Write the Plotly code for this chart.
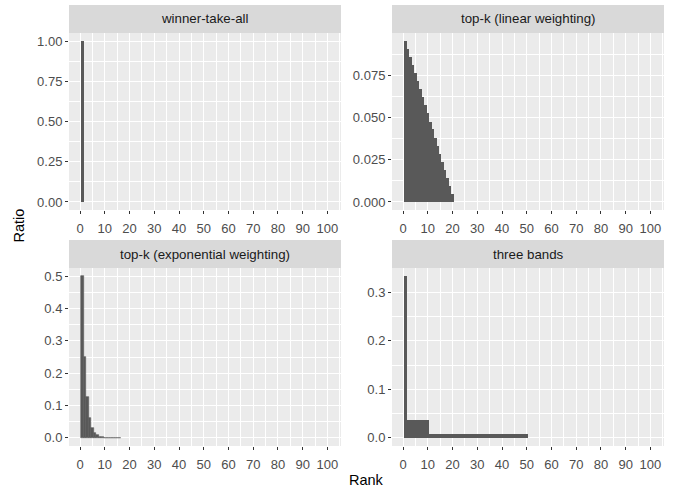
import plotly.graph_objects as go

W, H = 688, 491

# ---- data -------------------------------------------------------------
panels = ["winner-take-all", "top-k (linear weighting)",
          "top-k (exponential weighting)", "three bands"]

rank_winner = [1]
ratio_winner = [1.0]

rank_linear = list(range(1, 21))
ratio_linear = [0.0952, 0.0905, 0.0857, 0.0810, 0.0762, 0.0714, 0.0667,
                0.0619, 0.0571, 0.0524, 0.0476, 0.0429, 0.0381, 0.0333,
                0.0286, 0.0238, 0.0190, 0.0143, 0.0095, 0.0048]

rank_exp = list(range(1, 17))
ratio_exp = [0.5, 0.25, 0.125, 0.0625, 0.03125, 0.015625, 0.0078, 0.0039,
             0.00195, 0.00098, 0.00049, 0.00024, 0.00012, 0.00006,
             0.00003, 0.000015]

rank_bands = list(range(1, 51))
ratio_bands = [0.3333] + [0.0370] * 9 + [0.00833] * 40

x_ticks = [0, 10, 20, 30, 40, 50, 60, 70, 80, 90, 100]
x_minor = [5, 15, 25, 35, 45, 55, 65, 75, 85, 95, 105]

y_ticks = [
    [0, 0.25, 0.5, 0.75, 1.0],
    [0, 0.025, 0.05, 0.075],
    [0, 0.1, 0.2, 0.3, 0.4, 0.5],
    [0, 0.1, 0.2, 0.3],
]
y_minor = [
    [0.125, 0.375, 0.625, 0.875],
    [0.0125, 0.0375, 0.0625, 0.0875],
    [0.05, 0.15, 0.25, 0.35, 0.45],
    [0.05, 0.15, 0.25, 0.35],
]
y_fmt = [".2f", ".3f", ".1f", ".1f"]
y_range = [[-0.05, 1.05], [-0.00476, 0.1], [-0.025, 0.525], [-0.01667, 0.35]]

series = [(rank_winner, ratio_winner), (rank_linear, ratio_linear),
          (rank_exp, ratio_exp), (rank_bands, ratio_bands)]

# ---- layout geometry (pixels) ----------------------------------------
cols_px = [(69, 341), (392, 664)]
rows_px = [(33, 210), (268, 446)]
strip_h = 28

def px_x(p):
    return p / W

def px_y(p):
    return 1 - p / H

BAR = "#595959"
PANEL_BG = "#EBEBEB"
STRIP_BG = "#D9D9D9"
FONT = "Liberation Sans, Arial, Helvetica, sans-serif"
TICK_SIZE = 13
STRIP_SIZE = 13.3

fig = go.Figure()
layout = dict(
    width=W, height=H,
    margin=dict(l=0, r=0, t=0, b=0),
    paper_bgcolor="white",
    plot_bgcolor=PANEL_BG,
    showlegend=False,
    bargap=0,
    font=dict(family=FONT, size=TICK_SIZE, color="#4D4D4D"),
    shapes=[], annotations=[],
)

for i, (name, (xs, ys)) in enumerate(zip(panels, series)):
    r, c = divmod(i, 2)
    n = i + 1
    xa = "xaxis" if n == 1 else f"xaxis{n}"
    ya = "yaxis" if n == 1 else f"yaxis{n}"
    xref = "x" if n == 1 else f"x{n}"
    yref = "y" if n == 1 else f"y{n}"
    x0, x1 = cols_px[c]
    y0, y1 = rows_px[r]

    fig.add_trace(go.Bar(
        x=xs, y=ys, width=1, xaxis=xref, yaxis=yref,
        marker=dict(color=BAR,
                    line=dict(color=BAR, width=0.6 if i == 2 else 0)),
    ))

    layout[xa] = dict(
        domain=[px_x(x0), px_x(x1)], anchor=yref,
        range=[-4.5, 105.5], tickvals=x_ticks,
        ticks="outside", ticklen=3, tickwidth=1, tickcolor="#333333",
        ticklabelstandoff=3,
        showgrid=True, gridcolor="white", gridwidth=1.1,
        zeroline=False, showline=False,
        tickfont=dict(size=TICK_SIZE, color="#4D4D4D"),
        minor=dict(tickvals=x_minor, showgrid=True, gridcolor="white",
                   gridwidth=0.55, ticks=""),
    )
    layout[ya] = dict(
        domain=[px_y(y1), px_y(y0)], anchor=xref,
        range=y_range[i], tickvals=y_ticks[i], tickformat=y_fmt[i],
        ticks="outside", ticklen=3, tickwidth=1, tickcolor="#333333",
        showgrid=True, gridcolor="white", gridwidth=1.1,
        zeroline=False, showline=False,
        tickfont=dict(size=TICK_SIZE, color="#4D4D4D"),
        minor=dict(tickvals=y_minor[i], showgrid=True, gridcolor="white",
                   gridwidth=0.55, ticks=""),
    )

    # facet strip
    layout["shapes"].append(dict(
        type="rect", xref="paper", yref="paper", layer="below",
        x0=px_x(x0), x1=px_x(x1), y0=px_y(y0), y1=px_y(y0 - strip_h),
        fillcolor=STRIP_BG, line=dict(width=0),
    ))
    layout["annotations"].append(dict(
        text=name, xref="paper", yref="paper", showarrow=False,
        x=px_x((x0 + x1) / 2), y=px_y(y0 - strip_h / 2),
        xanchor="center", yanchor="middle",
        font=dict(family=FONT, size=STRIP_SIZE, color="#1A1A1A"),
    ))

# shared axis titles
layout["annotations"].append(dict(
    text="Rank", xref="paper", yref="paper", showarrow=False,
    x=px_x((cols_px[0][0] + cols_px[1][1]) / 2), y=px_y(480),
    xanchor="center", yanchor="middle",
    font=dict(family=FONT, size=14.5, color="black"),
))
layout["annotations"].append(dict(
    text="Ratio", xref="paper", yref="paper", showarrow=False,
    x=px_x(18), y=px_y((rows_px[0][0] - strip_h + rows_px[1][1]) / 2),
    xanchor="center", yanchor="middle", textangle=-90,
    font=dict(family=FONT, size=14.5, color="black"),
))

fig.update_layout(**layout)
fig.write_html("out.html")
